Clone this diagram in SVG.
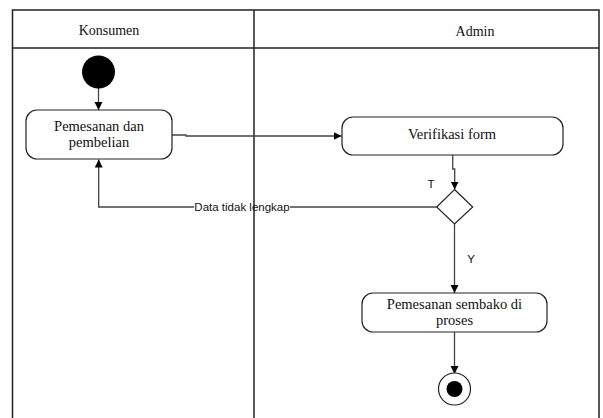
<svg xmlns="http://www.w3.org/2000/svg" width="603" height="418" viewBox="0 0 603 418">
  <style>
    .lane { fill: none; stroke: #222; stroke-width: 1.5; }
    .node { fill: #fff; stroke: #222; stroke-width: 1.2; }
    .conn { fill: none; stroke: #444; stroke-width: 1.3; }
    .serif { font-family: "Liberation Serif", "Times New Roman", serif; font-size: 14.5px; fill: #111; text-anchor: middle; }
    .sans { font-family: "Liberation Sans", Arial, sans-serif; font-size: 11.5px; fill: #111; }
  </style>
  <defs>
    <marker id="arrow" markerWidth="10" markerHeight="10" refX="8" refY="4" orient="auto" markerUnits="userSpaceOnUse">
      <path d="M0,0 L8,4 L0,8 Z" fill="#000"/>
    </marker>
  </defs>
  <rect width="603" height="418" fill="#fff"/>

  <!-- swimlanes -->
  <g id="lanes">
    <path class="lane" d="M12.5,420 V10 H599 V420"/>
    <line class="lane" x1="12.5" y1="48" x2="599" y2="48"/>
    <line class="lane" x1="254" y1="10" x2="254" y2="420"/>
    <text class="serif" x="109" y="35" style="font-size:14px">Konsumen</text>
    <text class="serif" x="475" y="36" style="font-size:14px">Admin</text>
  </g>

  <!-- connectors -->
  <g id="connectors">
    <line class="conn" x1="98.5" y1="88" x2="98.5" y2="110" marker-end="url(#arrow)"/>
    <path class="conn" d="M172,135 H186 V136 H341.5" marker-end="url(#arrow)"/>
    <path class="conn" d="M452.7,155 V169 H454.7 V189.5" marker-end="url(#arrow)"/>
    <path class="conn" d="M436.7,207 H290 M194,207 H98.7 V159.5" marker-end="url(#arrow)"/>
    <line class="conn" x1="454.5" y1="224" x2="454.5" y2="293" marker-end="url(#arrow)"/>
    <line class="conn" x1="454.5" y1="332" x2="454.5" y2="374" marker-end="url(#arrow)"/>
    <text class="sans" x="242" y="211" text-anchor="middle">Data tidak lengkap</text>
    <text class="sans" x="431" y="188" text-anchor="middle">T</text>
    <text class="sans" x="471" y="263" text-anchor="middle">Y</text>
  </g>

  <g id="start">
    <circle cx="98.5" cy="72" r="16.5" fill="#000"/>
  </g>

  <g id="pemesanan-pembelian">
    <rect class="node" x="26" y="110" width="146" height="49" rx="11"/>
    <text class="serif" x="99" y="131">Pemesanan dan</text>
    <text class="serif" x="99" y="147">pembelian</text>
  </g>

  <g id="verifikasi-form">
    <rect class="node" x="342" y="117" width="221" height="38" rx="11"/>
    <text class="serif" x="452" y="139">Verifikasi form</text>
  </g>

  <g id="decision">
    <path class="node" d="M454.5,189.5 L472.7,207 L454.5,224 L436.7,207 Z"/>
  </g>

  <g id="pemesanan-diproses">
    <rect class="node" x="362" y="293" width="185" height="39" rx="11"/>
    <text class="serif" x="454.5" y="309">Pemesanan sembako di</text>
    <text class="serif" x="454.5" y="325">proses</text>
  </g>

  <g id="end">
    <circle cx="454.5" cy="389" r="16" fill="#fff" stroke="#222" stroke-width="1.2"/>
    <circle cx="454.5" cy="389" r="8" fill="#000"/>
  </g>
</svg>
